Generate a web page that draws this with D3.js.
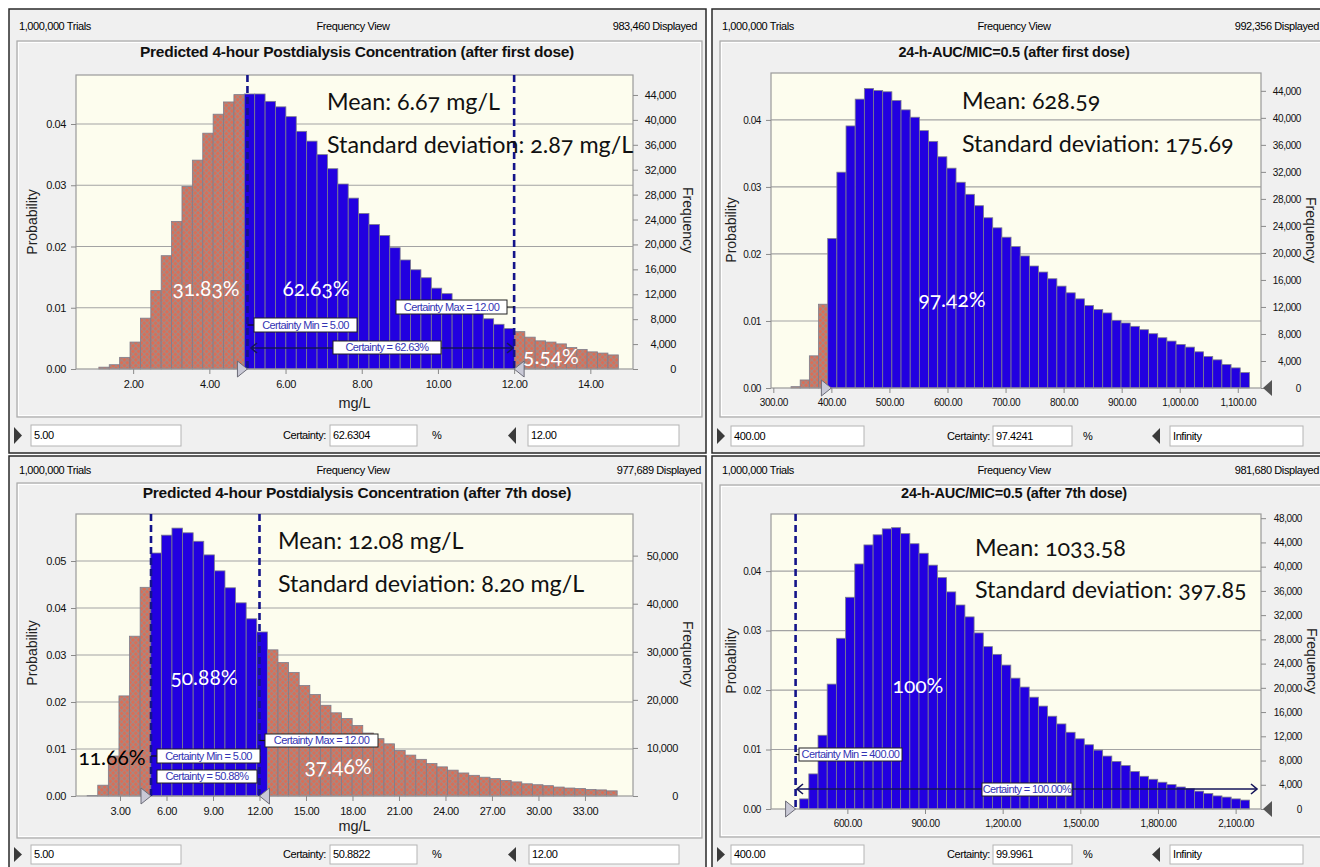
<!DOCTYPE html>
<html>
<head>
<meta charset="utf-8">
<script src="https://cdn.jsdelivr.net/npm/d3@7"></script>
<style>
body { margin: 0; background: #fff; }
svg text { font-family: "Liberation Sans", Arial, sans-serif; }
.ui { letter-spacing: -0.4px; fill: #000; }
.ann { font-family: Lato, "Open Sans", sans-serif; font-variant-numeric: oldstyle-nums; }
.tick text { letter-spacing: -0.4px; fill: #111; }
.tick line { stroke: #8a8a8a; }
</style>
</head>
<body>
<svg id="chart" width="1320" height="867"></svg>
<script>
var p1Title = "Predicted 4-hour Postdialysis Concentration (after first dose)";
var p2Title = "24-h-AUC/MIC=0.5 (after first dose)";
var p3Title = "Predicted 4-hour Postdialysis Concentration (after 7th dose)";
var p4Title = "24-h-AUC/MIC=0.5 (after 7th dose)";

var displayed = [983460, 992356, 977689, 981680];

// probability of each bin
var p1Prob = [0.0003, 0.0007, 0.0019, 0.0044, 0.0083, 0.0128, 0.0185, 0.0241, 0.0298, 0.0341, 0.0385, 0.0416, 0.0436, 0.0448, 0.0449,
  0.0449, 0.0437, 0.0428, 0.0412, 0.0388, 0.0372, 0.0350, 0.0327, 0.0302, 0.0279, 0.0254, 0.0236, 0.0218, 0.0198, 0.0178,
  0.0162, 0.0149, 0.0132, 0.0123, 0.0111, 0.0101, 0.0092, 0.0082, 0.0073, 0.0066, 0.0061, 0.0052, 0.0046, 0.0044, 0.0041,
  0.0035, 0.0032, 0.0028, 0.0026, 0.0023];
var p2Prob = [0.0002, 0.0012, 0.0048, 0.0125, 0.0223, 0.0322, 0.0391, 0.0431, 0.0447, 0.0444, 0.0442, 0.0429, 0.0415, 0.0404, 0.0384,
  0.0368, 0.0345, 0.0328, 0.0307, 0.0289, 0.0272, 0.0254, 0.0239, 0.0225, 0.0211, 0.0197, 0.0182, 0.0173, 0.0163, 0.0152,
  0.0142, 0.0133, 0.0123, 0.0117, 0.0112, 0.0101, 0.0097, 0.0092, 0.0087, 0.0081, 0.0075, 0.0070, 0.0065, 0.0061, 0.0054,
  0.0047, 0.0042, 0.0035, 0.0030, 0.0023];
var p3Prob = [0.0001, 0.0023, 0.0085, 0.0213, 0.0340, 0.0444, 0.0517, 0.0555, 0.0570, 0.0560, 0.0542, 0.0513, 0.0479, 0.0443, 0.0411,
  0.0377, 0.0349, 0.0311, 0.0284, 0.0263, 0.0235, 0.0216, 0.0193, 0.0177, 0.0165, 0.0150, 0.0134, 0.0122, 0.0111, 0.0097,
  0.0087, 0.0078, 0.0069, 0.0062, 0.0055, 0.0049, 0.0044, 0.0040, 0.0037, 0.0033, 0.0030, 0.0026, 0.0024, 0.0022, 0.0019,
  0.0017, 0.0016, 0.0014, 0.0013, 0.0011];
var p4Prob = [0.0017, 0.0059, 0.0124, 0.0210, 0.0287, 0.0356, 0.0412, 0.0444, 0.0461, 0.0471, 0.0473, 0.0463, 0.0446, 0.0430, 0.0410,
  0.0389, 0.0365, 0.0343, 0.0323, 0.0296, 0.0273, 0.0260, 0.0242, 0.0220, 0.0205, 0.0188, 0.0173, 0.0156, 0.0143, 0.0129,
  0.0118, 0.0108, 0.0099, 0.0089, 0.0080, 0.0073, 0.0063, 0.0055, 0.0050, 0.0045, 0.0041, 0.0037, 0.0034, 0.0030, 0.0026,
  0.0022, 0.0020, 0.0017, 0.0015];

// first bin edge and bin width (x units)
var binStart = [1.1, 330.5, 0.88, 415.7];
var binWidth = [0.2727, 15.79, 0.684, 35.47];

// certainty range [min, max]
var certRange = [[5, 12], [400, Infinity], [5, 12], [400, Infinity]];

var p1XTicks = [2, 4, 6, 8, 10, 12, 14];
var p2XTicks = [300, 400, 500, 600, 700, 800, 900, 1000, 1100];
var p3XTicks = [3, 6, 9, 12, 15, 18, 21, 24, 27, 30, 33];
var p4XTicks = [600, 900, 1200, 1500, 1800, 2100];
var p1YTicks = [0, 0.01, 0.02, 0.03, 0.04];
var p3YTicks = [0, 0.01, 0.02, 0.03, 0.04, 0.05];
var p1FreqTicks = d3.range(0, 44001, 4000);
var p2FreqTicks = d3.range(0, 44001, 4000);
var p3FreqTicks = [0, 10000, 20000, 30000, 40000, 50000];
var p4FreqTicks = d3.range(0, 48001, 4000);

var p1Stats = ["Mean: 6.67 mg/L", "Standard deviation: 2.87 mg/L"];
var p2Stats = ["Mean: 628.59", "Standard deviation: 175.69"];
var p3Stats = ["Mean: 12.08 mg/L", "Standard deviation: 8.20 mg/L"];
var p4Stats = ["Mean: 1033.58", "Standard deviation: 397.85"];

var p1Pct = ["31.83%", "62.63%", "5.54%"];
var p2Pct = ["97.42%"];
var p3Pct = ["50.88%", "11.66%", "37.46%"];
var p4Pct = ["100%"];

var p1Ctrl = ["5.00", "62.6304", "12.00"];
var p2Ctrl = ["400.00", "97.4241", "Infinity"];
var p3Ctrl = ["5.00", "50.8822", "12.00"];
var p4Ctrl = ["400.00", "99.9961", "Infinity"];

// ---- drawing ----
var svg = d3.select("#chart");
var defs = svg.append("defs");
var pat = defs.append("pattern").attr("id", "hatch")
  .attr("width", 4).attr("height", 4)
  .attr("patternUnits", "userSpaceOnUse")
  .attr("patternTransform", "rotate(45)");
pat.append("rect").attr("width", 4).attr("height", 4).attr("fill", "#da6e57");
pat.append("path").attr("d", "M0,0.5H4M0.5,0V4").attr("stroke", "#9b8e8b").attr("stroke-width", 0.9);

var fmtX = d3.format(",.2f"), fmtF = d3.format(",");

var panels = [
  { frame: [9, 9, 697, 444], inner: [17, 41, 685, 376], headY: 30, viewX: 353, dispEnd: 697,
    title: p1Title, titleX: 357, titleY: 57, titleFs: 15.5,
    plot: { l: 76, t: 75, r: 633, b: 369 }, xDom: [0.5, 15.12], yMax: 0.048,
    prob: p1Prob, i: 0, xTicks: p1XTicks, yTicks: p1YTicks, fTicks: p1FreqTicks, fs: 11,
    xLabel: "mg/L", xLabelY: 408, probX: 32, probY: 222, freqX: 688, freqY: 220, fEnd: 43,
    markers: true,
    stats: p1Stats, statX: 327, statY: [110, 153],
    pct: p1Pct, pctPos: [[206, 296, "#fff"], [316, 296, "#fff"], [551, 364, "#fff"]],
    boxes: [
      { text: "Certainty Min = 5.00", x: 254, y: 318, w: 103, h: 14, from: 5 },
      { text: "Certainty Max = 12.00", x: 396, y: 300, w: 111, h: 14, from: 12 },
      { text: "Certainty = 62.63%", x: 333, y: 341, w: 108, h: 13 }
    ],
    arrow: { x1: 251, x2: 513, y: 348 },
    ctrl: p1Ctrl, ctrlY: 425, ctrlH: 21, c: [14, 31, 150, 326, 330, 87, 432, 508, 528, 151]
  },
  { frame: [712, 9, 640, 444], inner: [720, 41, 640, 376], headY: 30, viewX: 1014, dispEnd: 1319,
    title: p2Title, titleX: 1014, titleY: 57, titleFs: 14.5,
    plot: { l: 771, t: 73, r: 1261, b: 388 }, xDom: [296, 1140], yMax: 0.047,
    prob: p2Prob, i: 1, xTicks: p2XTicks, yTicks: p1YTicks, fTicks: p2FreqTicks, fs: 10,
    xLabel: null, probX: 731, probY: 230, freqX: 1311, freqY: 230, fEnd: 40,
    markers: false,
    stats: p2Stats, statX: 962, statY: [109, 152],
    pct: p2Pct, pctPos: [[952, 307, "#fff"]],
    boxes: [], arrow: null, rightTri: true,
    ctrl: p2Ctrl, ctrlY: 426, ctrlH: 20, c: [717, 731, 133, 990, 993, 79, 1083, 1152, 1170, 133]
  },
  { frame: [9, 456, 697, 420], inner: [17, 483, 685, 355], headY: 474, viewX: 353, dispEnd: 701,
    title: p3Title, titleX: 357, titleY: 498, titleFs: 15.5,
    plot: { l: 76, t: 514, r: 633, b: 796 }, xDom: [0.16, 36.1], yMax: 0.06,
    prob: p3Prob, i: 2, xTicks: p3XTicks, yTicks: p3YTicks, fTicks: p3FreqTicks, fs: 11,
    xLabel: "mg/L", xLabelY: 831, probX: 32, probY: 653, freqX: 688, freqY: 654, fEnd: 45,
    markers: true,
    stats: p3Stats, statX: 278, statY: [549, 592],
    pct: p3Pct, pctPos: [[204, 685, "#fff"], [112, 765, "#000"], [338, 774, "#fff"]],
    boxes: [
      { text: "Certainty Min = 5.00", x: 157, y: 749, w: 103, h: 14, from: 5 },
      { text: "Certainty Max = 12.00", x: 265, y: 734, w: 113, h: 13, from: 12 },
      { text: "Certainty = 50.88%", x: 157, y: 770, w: 100, h: 13 }
    ],
    arrow: null,
    ctrl: p3Ctrl, ctrlY: 845, ctrlH: 19, c: [14, 31, 150, 326, 330, 87, 432, 508, 529, 150]
  },
  { frame: [712, 456, 640, 420], inner: [720, 485, 640, 352], headY: 474, viewX: 1014, dispEnd: 1319,
    title: p4Title, titleX: 1014, titleY: 498, titleFs: 14.5,
    plot: { l: 771, t: 514, r: 1261, b: 809 }, xDom: [305, 2198], yMax: 0.0496,
    prob: p4Prob, i: 3, xTicks: p4XTicks, yTicks: p1YTicks, fTicks: p4FreqTicks, fs: 10,
    xLabel: null, probX: 731, probY: 661, freqX: 1312, freqY: 661, fEnd: 41,
    markers: true,
    stats: p4Stats, statX: 975, statY: [556, 598],
    pct: p4Pct, pctPos: [[918, 693, "#fff"]],
    boxes: [
      { text: "Certainty Min = 400.00", x: 799, y: 748, w: 103, h: 13, from: 400 },
      { text: "Certainty = 100.00%", x: 982, y: 783, w: 90, h: 13 }
    ],
    arrow: { x1: 797, x2: 1257, y: 789 }, rightTri: true,
    ctrl: p4Ctrl, ctrlY: 845, ctrlH: 19, c: [717, 731, 133, 990, 993, 79, 1083, 1152, 1170, 133]
  }
];

panels.forEach(drawPanel);

function drawPanel(p) {
  var g = svg.append("g");
  var P = p.plot;
  var lo = certRange[p.i][0], hi = certRange[p.i][1];

  // window frame
  g.append("rect").attr("x", p.frame[0]).attr("y", p.frame[1]).attr("width", p.frame[2]).attr("height", p.frame[3])
    .attr("fill", "#f0f0f0").attr("stroke", "#2a2a2a").attr("stroke-width", 1.5);
  g.append("rect").attr("x", p.inner[0]).attr("y", p.inner[1]).attr("width", p.inner[2]).attr("height", p.inner[3])
    .attr("fill", "none").attr("stroke", "#a8a8a8").attr("stroke-width", 1.2);
  g.append("rect").attr("x", p.inner[0] + 1.5).attr("y", p.inner[1] + 1.5).attr("width", p.inner[2] - 3).attr("height", p.inner[3] - 3)
    .attr("fill", "none").attr("stroke", "#fff").attr("stroke-width", 1);

  // header line
  g.append("text").attr("class", "ui").attr("x", p.frame[0] + 10).attr("y", p.headY).attr("font-size", 11).text("1,000,000 Trials");
  g.append("text").attr("class", "ui").attr("x", p.viewX).attr("y", p.headY).attr("font-size", 11)
    .attr("text-anchor", "middle").text("Frequency View");
  g.append("text").attr("class", "ui").attr("x", p.dispEnd).attr("y", p.headY).attr("font-size", 11)
    .attr("text-anchor", "end").text(fmtF(displayed[p.i]) + " Displayed");

  g.append("text").attr("x", p.titleX).attr("y", p.titleY).attr("text-anchor", "middle")
    .attr("font-size", p.titleFs).attr("font-weight", "bold").attr("letter-spacing", "-0.25px").attr("fill", "#111")
    .text(p.title);

  // scales
  var x = d3.scaleLinear().domain(p.xDom).range([P.l, P.r]);
  var y = d3.scaleLinear().domain([0, p.yMax]).range([P.b, P.t]);
  var yF = d3.scaleLinear().domain([0, p.yMax * displayed[p.i]]).range([P.b, P.t]);

  g.append("rect").attr("x", P.l).attr("y", P.t).attr("width", P.r - P.l).attr("height", P.b - P.t)
    .attr("fill", "#fdfdee");

  // grid
  g.append("g").selectAll("line").data(p.yTicks.filter(function (d) { return d > 0; })).join("line")
    .attr("x1", P.l).attr("x2", P.r).attr("y1", y).attr("y2", y)
    .attr("stroke", "#a3a3a3").attr("stroke-width", 1.2);

  // bars
  var bins = p.prob.map(function (v, k) {
    var s = binStart[p.i] + k * binWidth[p.i];
    return { x0: s, x1: s + binWidth[p.i], p: v };
  });
  g.append("g").selectAll("rect").data(bins).join("rect")
    .attr("x", function (d) { return x(d.x0); })
    .attr("width", function (d) { return x(d.x1) - x(d.x0); })
    .attr("y", function (d) { return y(d.p); })
    .attr("height", function (d) { return y(0) - y(d.p); })
    .attr("fill", function (d) { return (d.x1 > lo + 1e-6 && d.x0 < hi - 1e-6) ? "#2200e0" : "url(#hatch)"; })
    .attr("stroke", "#7d7d8c").attr("stroke-width", 0.8);

  g.append("rect").attr("x", P.l).attr("y", P.t).attr("width", P.r - P.l).attr("height", P.b - P.t)
    .attr("fill", "none").attr("stroke", "#9a9a9a").attr("stroke-width", 1.2);

  // axes
  var ax = g.append("g").attr("transform", "translate(" + P.l + ",0)")
    .call(d3.axisLeft(y).tickValues(p.yTicks).tickFormat(d3.format(".2f")).tickSize(5).tickPadding(5));
  var axR = g.append("g").attr("transform", "translate(" + P.r + ",0)")
    .call(d3.axisRight(yF).tickValues(p.fTicks).tickFormat(fmtF).tickSize(5));
  axR.selectAll("text").attr("text-anchor", "end").attr("x", p.fEnd);
  var axB = g.append("g").attr("transform", "translate(0," + P.b + ")")
    .call(d3.axisBottom(x).tickValues(p.xTicks).tickFormat(fmtX).tickSize(5).tickPadding(6));
  [ax, axR, axB].forEach(function (a) {
    a.select(".domain").remove();
    a.selectAll("text").attr("font-size", p.fs).attr("font-family", "Liberation Sans, Arial, sans-serif");
  });

  // axis titles
  g.append("text").attr("transform", "translate(" + p.probX + "," + p.probY + ") rotate(-90)")
    .attr("text-anchor", "middle").attr("dy", "0.35em").attr("font-size", 14).attr("fill", "#222").text("Probability");
  g.append("text").attr("transform", "translate(" + p.freqX + "," + p.freqY + ") rotate(90)")
    .attr("text-anchor", "middle").attr("dy", "0.35em").attr("font-size", 14).attr("fill", "#222").text("Frequency");
  if (p.xLabel) {
    g.append("text").attr("x", (P.l + P.r) / 2).attr("y", p.xLabelY).attr("text-anchor", "middle")
      .attr("font-size", 14.5).attr("fill", "#222").text(p.xLabel);
  }

  // certainty markers
  var navy = "#14148a";
  if (p.markers) {
    [lo, hi].filter(isFinite).forEach(function (v) {
      g.append("line").attr("x1", x(v)).attr("x2", x(v)).attr("y1", P.t).attr("y2", P.b)
        .attr("stroke", navy).attr("stroke-width", 2.6).attr("stroke-dasharray", "7,4");
    });
  }
  p.boxes.forEach(function (b) {
    if (b.from !== undefined) {
      g.append("line").attr("x1", x(b.from)).attr("x2", b.x).attr("y1", b.y + b.h / 2).attr("y2", b.y + b.h / 2)
        .attr("stroke", "#111").attr("stroke-width", 1.2);
    }
  });
  if (p.arrow) {
    var a = p.arrow;
    g.append("line").attr("x1", a.x1).attr("x2", a.x2).attr("y1", a.y).attr("y2", a.y)
      .attr("stroke", "#15155a").attr("stroke-width", 1.6);
    g.append("path").attr("d", "M" + (a.x1 + 6) + "," + (a.y - 5) + "L" + a.x1 + "," + a.y + "L" + (a.x1 + 6) + "," + (a.y + 5))
      .attr("fill", "none").attr("stroke", "#15155a").attr("stroke-width", 1.6);
    g.append("path").attr("d", "M" + (a.x2 - 6) + "," + (a.y - 5) + "L" + a.x2 + "," + a.y + "L" + (a.x2 - 6) + "," + (a.y + 5))
      .attr("fill", "none").attr("stroke", "#15155a").attr("stroke-width", 1.6);
  }
  p.boxes.forEach(function (b) {
    g.append("rect").attr("x", b.x).attr("y", b.y).attr("width", b.w).attr("height", b.h)
      .attr("fill", "#fff").attr("stroke", "#222").attr("stroke-width", 1);
    g.append("text").attr("x", b.x + b.w / 2).attr("y", b.y + b.h / 2).attr("dy", "0.36em")
      .attr("text-anchor", "middle").attr("font-size", 11).attr("letter-spacing", "-0.6px")
      .attr("fill", "#3434b4").text(b.text);
  });

  // grab handles on the baseline
  [lo, hi].filter(isFinite).forEach(function (v, k) {
    var tx = x(v), dir = k === 0 ? -1 : 1;
    g.append("path")
      .attr("d", "M" + tx + "," + P.b + "L" + (tx + dir * 10) + "," + (P.b - 8) + "L" + (tx + dir * 10) + "," + (P.b + 8) + "Z")
      .attr("fill", "#c9c9d6").attr("stroke", "#6c6c78").attr("stroke-width", 1);
  });
  if (p.rightTri) {
    g.append("path")
      .attr("d", "M" + (P.r + 2) + "," + P.b + "L" + (P.r + 11) + "," + (P.b - 8) + "L" + (P.r + 11) + "," + (P.b + 8) + "Z")
      .attr("fill", "#555");
  }

  // statistics and percentages
  p.stats.forEach(function (s, k) {
    g.append("text").attr("class", "ann").attr("x", p.statX).attr("y", p.statY[k])
      .attr("font-size", 23.3).attr("fill", "#111").text(s);
  });
  p.pct.forEach(function (s, k) {
    var pos = p.pctPos[k];
    g.append("text").attr("class", "ann").attr("x", pos[0]).attr("y", pos[1]).attr("text-anchor", "middle")
      .attr("font-size", 21).attr("fill", pos[2]).text(s);
  });

  // bottom control strip
  var c = p.c, cy = p.ctrlY, ch = p.ctrlH;
  g.append("path").attr("d", "M" + c[0] + "," + (cy + 2) + "L" + (c[0] + 8) + "," + (cy + ch / 2) + "L" + c[0] + "," + (cy + ch - 2) + "Z")
    .attr("fill", "#3a3a3a");
  g.append("rect").attr("x", c[1]).attr("y", cy).attr("width", c[2]).attr("height", ch)
    .attr("fill", "#fff").attr("stroke", "#b4b4b4");
  g.append("text").attr("class", "ui").attr("x", c[1] + 3).attr("y", cy + ch / 2).attr("dy", "0.36em")
    .attr("font-size", 11).text(p.ctrl[0]);
  g.append("text").attr("class", "ui").attr("x", c[3]).attr("y", cy + ch / 2).attr("dy", "0.36em")
    .attr("text-anchor", "end").attr("font-size", 11).text("Certainty:");
  g.append("rect").attr("x", c[4]).attr("y", cy).attr("width", c[5]).attr("height", ch)
    .attr("fill", "#fff").attr("stroke", "#b4b4b4");
  g.append("text").attr("class", "ui").attr("x", c[4] + 3).attr("y", cy + ch / 2).attr("dy", "0.36em")
    .attr("font-size", 11).text(p.ctrl[1]);
  g.append("text").attr("class", "ui").attr("x", c[6]).attr("y", cy + ch / 2).attr("dy", "0.36em")
    .attr("font-size", 11).text("%");
  g.append("path").attr("d", "M" + (c[7] + 8) + "," + (cy + 2) + "L" + c[7] + "," + (cy + ch / 2) + "L" + (c[7] + 8) + "," + (cy + ch - 2) + "Z")
    .attr("fill", "#3a3a3a");
  g.append("rect").attr("x", c[8]).attr("y", cy).attr("width", c[9]).attr("height", ch)
    .attr("fill", "#fff").attr("stroke", "#b4b4b4");
  g.append("text").attr("class", "ui").attr("x", c[8] + 3).attr("y", cy + ch / 2).attr("dy", "0.36em")
    .attr("font-size", 11).text(p.ctrl[2]);
}
</script>
</body>
</html>
